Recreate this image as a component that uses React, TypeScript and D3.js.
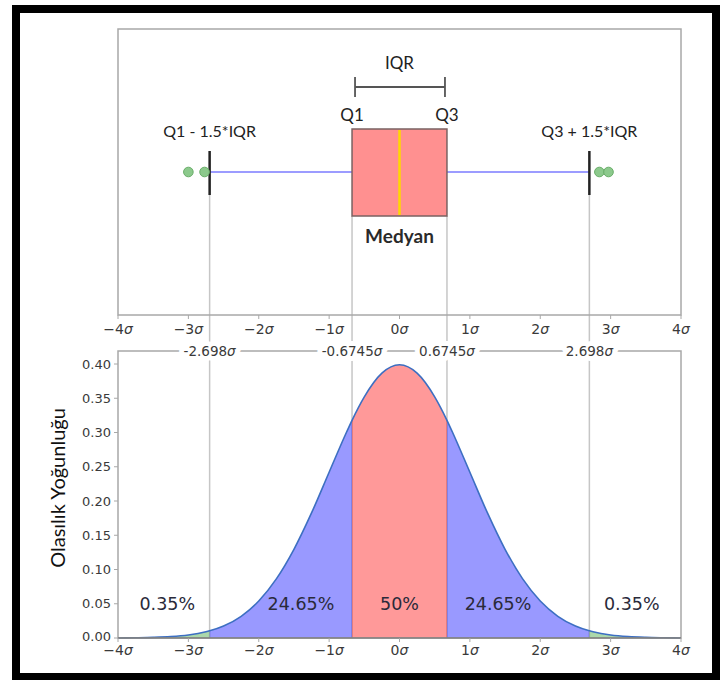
import React from "react";
import * as d3 from "d3";

// ---- data ----
const sigmaTicks = [-4, -3, -2, -1, 0, 1, 2, 3, 4];
const yTicks = [0, 0.05, 0.1, 0.15, 0.2, 0.25, 0.3, 0.35, 0.4];
const q1 = -0.6745;
const median = 0;
const q3 = 0.6745;
const whiskerLow = -2.698;
const whiskerHigh = 2.698;
const outliers = [-3.0, -2.77, 2.84, 2.97];

const curveX = [-4, -3.75, -3.5, -3.25, -3, -2.75, -2.698, -2.5, -2.25, -2, -1.75, -1.5, -1.25, -1, -0.75, -0.6745, -0.5, -0.25, 0,
  0.25, 0.5, 0.6745, 0.75, 1, 1.25, 1.5, 1.75, 2, 2.25, 2.5, 2.698, 2.75, 3, 3.25, 3.5, 3.75, 4];
const curveY = [0.0001, 0.0004, 0.0009, 0.002, 0.0044, 0.0091, 0.0105, 0.0175, 0.0317, 0.054, 0.0863, 0.1295, 0.1826, 0.242, 0.3011, 0.3178, 0.3521, 0.3867, 0.3989,
  0.3867, 0.3521, 0.3178, 0.3011, 0.242, 0.1826, 0.1295, 0.0863, 0.054, 0.0317, 0.0175, 0.0105, 0.0091, 0.0044, 0.002, 0.0009, 0.0004, 0.0001];

const bandEdges = [-4, -2.698, -0.6745, 0.6745, 2.698, 4];
const bandColors = ["#2e9e2e", "#0000ff", "#ff0000", "#0000ff", "#2e9e2e"];

const pctLabels = ["0.35%", "24.65%", "50%", "24.65%", "0.35%"];
const pctX = [-3.3, -1.4, 0, 1.4, 3.3];
const pctY = 0.05;

const topLabelVals = [-2.698, -0.6745, 0.6745, 2.698];
const topLabels = ["-2.698", "-0.6745", "0.6745", "2.698"];

// ---- layout ----
const W = 720;
const H = 680;
const L = 118;
const R = 681;
const topT = 29;
const topB = 315;
const botT = 351;
const botB = 638;
const boxTop = 129;
const boxBot = 216;
const midY = 172;
const capTop = 151;
const capBot = 195;

const tickFont = "DejaVu Sans, sans-serif";
const annFont = "Lato, 'Open Sans', sans-serif";

function sigmaLabel(v: number) {
  const s = v < 0 ? "\u2212" + Math.abs(v) : String(v);
  return (
    <>
      {s}
      <tspan fontStyle="italic">σ</tspan>
    </>
  );
}

export default function App() {
  const x = d3.scaleLinear().domain([-4, 4]).range([L, R]);
  const y = d3.scaleLinear().domain([0, 0.419]).range([botB, botT]);

  const pts = curveX.map((cx, i) => [cx, curveY[i]] as [number, number]);
  const area = d3
    .area<[number, number]>()
    .x((d) => x(d[0]))
    .y0(y(0))
    .y1((d) => y(d[1]))
    .curve(d3.curveMonotoneX)(pts) as string;
  const line = d3
    .line<[number, number]>()
    .x((d) => x(d[0]))
    .y((d) => y(d[1]))
    .curve(d3.curveMonotoneX)(pts) as string;

  const gray = "#c6c6c6";
  const frame = "#a8a8a8";
  const tickColor = "#3a3a3a";

  return (
    <svg width={W} height={H} style={{ position: "absolute", left: 0, top: 0, background: "#fff" }}>
      <defs>
        {bandColors.map((_, i) => (
          <clipPath id={`band${i}`} key={i}>
            <rect x={x(bandEdges[i])} y={botT} width={x(bandEdges[i + 1]) - x(bandEdges[i])} height={botB - botT} />
          </clipPath>
        ))}
      </defs>

      {/* outer black frame */}
      <rect x={16} y={9} width={700} height={668} fill="none" stroke="#000" strokeWidth={8} />

      {/* connecting vertical gray lines */}
      {[whiskerLow, q1, q3, whiskerHigh].map((v, i) => (
        <line
          key={i}
          x1={x(v)}
          x2={x(v)}
          y1={v === q1 || v === q3 ? boxBot : capBot}
          y2={botB}
          stroke={gray}
          strokeWidth={1.5}
        />
      ))}

      {/* ---- top panel ---- */}
      <rect x={L} y={topT} width={R - L} height={topB - topT} fill="none" stroke={frame} strokeWidth={1.5} />
      {/* whiskers */}
      <line x1={x(whiskerLow)} x2={x(q1)} y1={midY} y2={midY} stroke="#9c9cff" strokeWidth={2.2} />
      <line x1={x(q3)} x2={x(whiskerHigh)} y1={midY} y2={midY} stroke="#9c9cff" strokeWidth={2.2} />
      {[whiskerLow, whiskerHigh].map((v, i) => (
        <line key={i} x1={x(v)} x2={x(v)} y1={capTop} y2={capBot} stroke="#222" strokeWidth={2.5} />
      ))}
      {/* box */}
      <rect x={x(q1)} y={boxTop} width={x(q3) - x(q1)} height={boxBot - boxTop} fill="#ff9090" stroke="#7a6262" strokeWidth={1.5} />
      <line x1={x(median)} x2={x(median)} y1={boxTop + 1} y2={boxBot - 1} stroke="#ffd700" strokeWidth={2.5} />
      {/* outliers */}
      {outliers.map((v, i) => (
        <circle key={i} cx={x(v)} cy={midY} r={4.8} fill="#8cc98c" stroke="#6aae6a" strokeWidth={1} />
      ))}
      {/* IQR bracket */}
      <g stroke="#555" strokeWidth={1.8}>
        <line x1={x(q1) + 3} x2={x(q3) - 2} y1={87} y2={87} />
        <line x1={x(q1) + 3} x2={x(q1) + 3} y1={77} y2={97} />
        <line x1={x(q3) - 2} x2={x(q3) - 2} y1={77} y2={97} />
      </g>
      <g fontFamily={annFont} fill="#222" textAnchor="middle">
        <text x={x(median)} y={69} fontSize={17}>IQR</text>
        <text x={x(q1)} y={121} fontSize={17}>Q1</text>
        <text x={x(q3)} y={121} fontSize={17}>Q3</text>
        <text x={x(whiskerLow)} y={137} fontSize={16}>Q1 - 1.5*IQR</text>
        <text x={x(whiskerHigh)} y={137} fontSize={16}>Q3 + 1.5*IQR</text>
        <text x={x(median)} y={243} fontSize={19} fontWeight={700} fill="#2a2a2a">Medyan</text>
      </g>
      {/* top x axis */}
      {sigmaTicks.map((t) => (
        <g key={t} transform={`translate(${x(t)},${topB})`}>
          <line y1={0} y2={4} stroke={frame} strokeWidth={1} />
          <text y={19} textAnchor="middle" fontFamily={tickFont} fontSize={14} fill={tickColor}>
            {sigmaLabel(t)}
          </text>
        </g>
      ))}

      {/* ---- bottom panel ---- */}
      {bandColors.map((c, i) => (
        <path key={i} d={area} fill={c} fillOpacity={0.4} clipPath={`url(#band${i})`} />
      ))}
      <path d={line} fill="none" stroke="#3d6fc2" strokeWidth={1.6} />
      <rect x={L} y={botT} width={R - L} height={botB - botT} fill="none" stroke={frame} strokeWidth={1.5} />
      <line x1={L} x2={R} y1={botB} y2={botB} stroke="#666" strokeWidth={1.2} />
      {/* y axis */}
      {yTicks.map((t) => (
        <g key={t} transform={`translate(${L},${y(t)})`}>
          <line x1={-4} x2={0} stroke={frame} strokeWidth={1} />
          <text x={-7} dy={t === 0 ? "0.2em" : "0.35em"} textAnchor="end" fontFamily={tickFont} fontSize={13} fill={tickColor}>
            {t.toFixed(2)}
          </text>
        </g>
      ))}
      <text
        transform={`translate(65,488) rotate(-90)`}
        textAnchor="middle"
        fontFamily={annFont}
        fontSize={20}
        fill="#111"
      >
        Olasılık Yoğunluğu
      </text>
      {/* bottom x axis */}
      {sigmaTicks.map((t) => (
        <g key={t} transform={`translate(${x(t)},${botB})`}>
          <line y1={0} y2={4} stroke={frame} strokeWidth={1} />
          <text y={17} textAnchor="middle" fontFamily={tickFont} fontSize={14} fill={tickColor}>
            {sigmaLabel(t)}
          </text>
        </g>
      ))}
      {/* percent labels */}
      {pctLabels.map((s, i) => (
        <text key={i} x={x(pctX[i])} y={y(pctY)} dy="0.35em" textAnchor="middle" fontFamily={tickFont} fontSize={17.5} fill="#2a2a3a">
          {s}
        </text>
      ))}
      {/* top spine labels: white halo layer, then text */}
      {topLabels.map((s, i) => (
        <text
          key={`h${i}`}
          x={x(topLabelVals[i])}
          y={botT}
          dy="0.35em"
          textAnchor="middle"
          fontFamily={tickFont}
          fontSize={13.5}
          fill="#fff"
          stroke="#fff"
          strokeWidth={10}
          strokeLinejoin="round"
        >
          {s}
          <tspan fontStyle="italic">σ</tspan>
        </text>
      ))}
      {topLabels.map((s, i) => (
        <text
          key={`t${i}`}
          x={x(topLabelVals[i])}
          y={botT}
          dy="0.35em"
          textAnchor="middle"
          fontFamily={tickFont}
          fontSize={13.5}
          fill={tickColor}
        >
          {s}
          <tspan fontStyle="italic">σ</tspan>
        </text>
      ))}
    </svg>
  );
}
